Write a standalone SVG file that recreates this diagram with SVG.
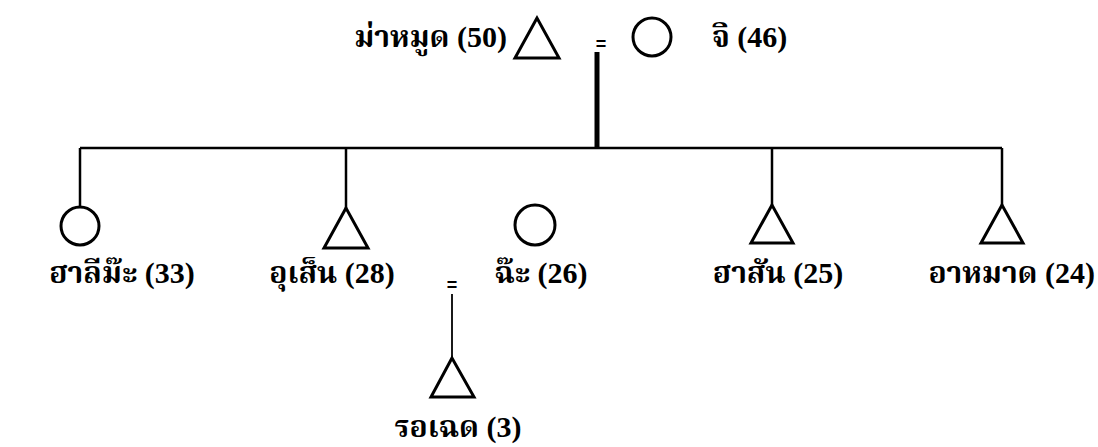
<svg xmlns="http://www.w3.org/2000/svg" width="1098" height="447" viewBox="0 0 1098 447">
<style>
.bg{fill:#fff}
.sym{fill:none;stroke:#000;stroke-width:3}
.con{fill:none;stroke:#000;stroke-width:2.5}
.thin{fill:none;stroke:#000;stroke-width:1.8}
.lbl{font-family:"Liberation Serif","Noto Serif Thai","Noto Sans Thai","Noto Sans",serif;font-weight:bold;font-size:30px;fill:#000}
.mid{text-anchor:middle}
.eq{font-family:"Liberation Sans",sans-serif;font-weight:bold;font-size:18px;fill:#000;text-anchor:middle}
</style>
<rect class="bg" x="0" y="0" width="1098" height="447"/>
<g id="connectors">
<line class="con" x1="597" y1="52" x2="597" y2="148" style="stroke-width:5"/>
<line class="con" x1="80" y1="148" x2="1002" y2="148"/>
<line class="con" x1="80" y1="148" x2="80" y2="207"/>
<line class="con" x1="346" y1="148" x2="346" y2="208"/>
<line class="con" x1="772" y1="148" x2="772" y2="205"/>
<line class="con" x1="1002" y1="148" x2="1002" y2="205"/>
<line class="thin" x1="452" y1="294" x2="452" y2="358"/>
</g>
<g id="father">
<text class="lbl" x="507" y="47" text-anchor="end">ม่าหมูด (50)</text>
<polygon class="sym" points="537,18 515,58 559,58"/>
</g>
<g id="marriage-top"><text class="eq" x="601" y="50">=</text></g>
<g id="mother">
<circle class="sym" cx="652" cy="37" r="19"/>
<text class="lbl" x="712" y="47">จิ (46)</text>
</g>
<g id="halima">
<circle class="sym" cx="80" cy="226" r="19"/>
<text class="lbl mid" x="122" y="283">ฮาลีม๊ะ (33)</text>
</g>
<g id="usen">
<polygon class="sym" points="346,208 324,248 368,248"/>
<text class="lbl mid" x="332" y="283">อุเส็น (28)</text>
</g>
<g id="marriage-usen"><text class="eq" x="452" y="291">=</text></g>
<g id="cha">
<circle class="sym" cx="535" cy="225" r="20"/>
<text class="lbl mid" x="541" y="283">ฉ๊ะ (26)</text>
</g>
<g id="hasan">
<polygon class="sym" points="772,205 751,243 793,243"/>
<text class="lbl mid" x="778" y="283">ฮาสัน (25)</text>
</g>
<g id="ahmad">
<polygon class="sym" points="1002,205 981,243 1023,243"/>
<text class="lbl" x="1095" y="283" text-anchor="end">อาหมาด (24)</text>
</g>
<g id="rosed">
<polygon class="sym" points="452,358 431,397 474,397"/>
<text class="lbl mid" x="458" y="437">รอเฉด (3)</text>
</g>
</svg>
